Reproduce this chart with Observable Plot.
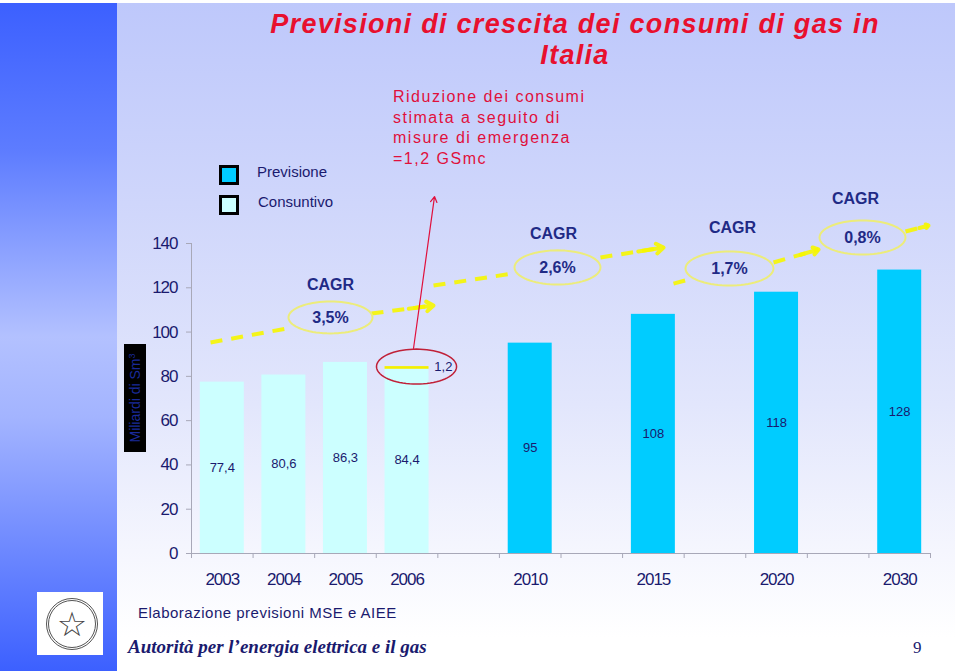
<!DOCTYPE html>
<html><head><meta charset="utf-8">
<script src="https://cdn.jsdelivr.net/npm/d3@7"></script>
<script src="https://cdn.jsdelivr.net/npm/@observablehq/plot@0.6"></script>
<style>
html,body{margin:0;padding:0;background:#fff;}
#slide{position:relative;width:960px;height:671px;overflow:hidden;font-family:"Liberation Sans",Arial,sans-serif;}
#bg{position:absolute;left:0;top:3px;width:955px;height:668px;
 background:linear-gradient(to bottom,#bec8fb 0%,#cfd6fb 30%,#e2e6fc 60%,#f5f6fe 82%,#ffffff 95%);}
#strip{position:absolute;left:0;top:3px;width:117px;height:668px;
 background:linear-gradient(to bottom,#3c60ff 0%,#5d7cff 22%,#b3c1ff 50%,#a3b4ff 62%,#3c60ff 100%);}
#chart{position:absolute;left:0;top:0;}
#chart svg{overflow:visible;}
#chart svg [aria-label="y-axis tick label"] text,
#chart svg [aria-label="x-axis tick label"] text{letter-spacing:-1px;}
.title{position:absolute;left:190px;width:770px;top:9px;text-align:center;color:#e8102e;
 font:italic bold 27px/31px "Liberation Sans",Arial,sans-serif;letter-spacing:1.3px;}
.note{position:absolute;left:393px;top:87px;color:#e0103c;font-size:16px;line-height:20.5px;letter-spacing:1.5px;}
.lg{position:absolute;width:14px;height:14px;border:3px solid #000;}
.lgt{position:absolute;color:#1a1a6e;font-size:15px;}
.ylab{position:absolute;left:124px;top:344px;width:22px;height:108px;background:#000;}
.ylab span{position:absolute;left:11px;top:54px;transform:translate(-50%,-50%) rotate(-90deg);white-space:nowrap;color:#1a2a9a;font-size:14px;}
.src{position:absolute;left:138px;top:604px;color:#1a1a6e;font-size:15px;letter-spacing:0.5px;}
.aut{position:absolute;left:128px;top:636px;color:#1a1a6e;font:italic bold 19px "Liberation Serif","Times New Roman",serif;}
.pg{position:absolute;left:913px;top:638px;color:#1a1a6e;font:17px "Liberation Serif",serif;}
.logo{position:absolute;left:37px;top:592px;width:66px;height:63px;background:#fff;}
.logo span{position:absolute;left:9px;top:6px;width:46px;height:46px;border:3px double #555;border-radius:50%;text-align:center;font:34px/46px "DejaVu Sans",sans-serif;color:#444;}
</style></head><body>
<div id="slide">
 <div id="bg"></div><div id="strip"></div>
 <div id="chart"></div>
 <div class="title">Previsioni di crescita dei consumi di gas in<br>Italia</div>
 <div class="note">Riduzione dei consumi<br>stimata a seguito di<br>misure di emergenza<br>=1,2 GSmc</div>
 <div class="lg" style="left:219px;top:165px;background:#00ccff"></div>
 <div class="lgt" style="left:257px;top:163px">Previsione</div>
 <div class="lg" style="left:219px;top:195px;background:#ccffff"></div>
 <div class="lgt" style="left:258px;top:193px">Consuntivo</div>
 <div class="ylab"><span>Miliardi di Sm<sup style="font-size:9px">3</sup></span></div>
 <div class="logo"><span>☆</span></div>
 <div class="src">Elaborazione previsioni MSE e AIEE</div>
 <div class="aut">Autorità per l’energia elettrica e il gas</div>
 <div class="pg">9</div>
</div>
<script>
// ---- data ----
const years = ["2003","2004","2005","2006","2010","2015","2020","2030"];
const slots = [0, 1, 2, 3, 5, 7, 9, 11];
const values = [77.4, 80.6, 86.3, 84.4, 95, 108, 118, 128];
const valueLabels = ["77,4","80,6","86,3","84,4","95","108","118","128"];
const kinds = ["Consuntivo","Consuntivo","Consuntivo","Consuntivo","Previsione","Previsione","Previsione","Previsione"];
const reductionYear = "2006";
const reduction = 1.2;
const reductionLabel = "1,2";
const yTicks = [0, 20, 40, 60, 80, 100, 120, 140];

// CAGR annotations (in chart units: slot index, Mld Sm3)
const cagrValues = ["3,5%","2,6%","1,7%","0,8%"];
const cagrX = [2.257, 5.943, 8.736, 10.896];
const cagrY = [106.6, 129.2, 128.7, 142.7];
const cagrTitleX = [2.257, 5.878, 8.785, 10.782];
const cagrTitleY = [121.5, 144.5, 147.2, 160.3];
const cagrRx = [0.682, 0.698, 0.714, 0.698];
const cagrRy = [7.2, 7.7, 7.7, 7.7];
// dashed trend pieces
const trendX1 = [0.309, 2.923, 3.930, 6.641, 7.827, 9.451, 11.594];
const trendY1 = [95.3, 108.4, 121.0, 133.7, 121.9, 131.4, 145.4];
const trendX2 = [1.543, 3.930, 5.213, 7.665, 8.070, 10.182, 11.968];
const trendY2 = [101.6, 112.0, 126.4, 138.2, 123.7, 137.3, 148.1];
const trendHead = [false, true, false, true, false, true, true];
// red callout
const calloutX = [3.605, 3.946];
const calloutY = [92.6, 161.2];
const calloutEllipse = {x: 3.654, y: 84.4, rx: 0.65, ry: 7.9};

// ---- build tables ----
const colors = {Consuntivo: "#ccffff", Previsione: "#00ccff"};
const bars = years.map((yr, i) => ({
  year: yr, slot: slots[i], value: values[i], label: valueLabels[i], kind: kinds[i],
  top: yr === reductionYear ? values[i] - reduction : values[i]
}));
const redBar = bars.filter(d => d.year === reductionYear);
const trend = trendX1.map((x, i) => ({x1: x, y1: trendY1[i], x2: trendX2[i], y2: trendY2[i], head: trendHead[i]}));
const heads = trend.filter(d => d.head).map(d => ({
  x1: d.x1 + (d.x2 - d.x1) * 0.6, y1: d.y1 + (d.y2 - d.y1) * 0.6, x2: d.x2, y2: d.y2
}));
function ellipsePts(id, cx, cy, rx, ry) {
  return d3.range(0, 73).map(k => {
    const a = k / 72 * 2 * Math.PI;
    return {id, x: cx + rx * Math.cos(a), y: cy + ry * Math.sin(a)};
  });
}
const cagrEllipses = cagrValues.flatMap((v, i) => ellipsePts(v, cagrX[i], cagrY[i], cagrRx[i], cagrRy[i]));
const redEllipse = ellipsePts("red", calloutEllipse.x, calloutEllipse.y, calloutEllipse.rx, calloutEllipse.ry);

const navy = "#1a1a6e";
const cagrColor = "#1f2a86";
const slotLabels = new Map(bars.map(d => [d.slot + 0.5, d.year]));

const chart = Plot.plot({
  width: 960, height: 671,
  marginTop: 243, marginBottom: 118, marginLeft: 191, marginRight: 30,
  style: {background: "transparent", fontFamily: "'Liberation Sans', Arial, sans-serif", fontSize: "17px", color: navy},
  x: {domain: [0, 12], axis: null},
  y: {domain: [0, 140], axis: null},
  marks: [
    Plot.rectY(bars, {x1: "slot", x2: d => d.slot + 1, y: "top", insetLeft: 8.8, insetRight: 8.8, fill: d => colors[d.kind]}),
    Plot.rectY(redBar, {x1: "slot", x2: d => d.slot + 1, y1: "top", y2: "value", insetLeft: 8.8, insetRight: 8.8, fill: "#f4f000"}),
    Plot.text(bars, {x: d => d.slot + 0.5, y: d => d.value / 2, text: "label", fontSize: 13, fill: navy}),
    Plot.ruleX([0], {y1: 0, y2: 140, stroke: "#a8a8b8"}),
    Plot.ruleY([0], {x1: 0, x2: 12, stroke: "#a8a8b8"}),
    Plot.axisY({ticks: yTicks, tickSize: 5, tickPadding: 9, stroke: "#a8a8b8", fill: navy, fontSize: 17}),
    Plot.axisX({ticks: d3.range(0, 13), tickSize: 5, tickFormat: () => "", stroke: "#a8a8b8"}),
    Plot.axisX({ticks: [...slotLabels.keys()], tickSize: 0, tickPadding: 19, tickFormat: d => slotLabels.get(d), fill: navy, fontSize: 17}),
    // trend arrows
    Plot.link(trend, {x1: "x1", y1: "y1", x2: "x2", y2: "y2", stroke: "#f6f600", strokeWidth: 4, strokeDasharray: "12 9", strokeOpacity: 0.9}),
    Plot.arrow(heads, {x1: "x1", y1: "y1", x2: "x2", y2: "y2", stroke: "#f6f600", strokeWidth: 4, headLength: 9, headAngle: 70, strokeOpacity: 0.9}),
    Plot.line(cagrEllipses, {x: "x", y: "y", z: "id", stroke: "#ecec7a", strokeWidth: 2, curve: "linear-closed"}),
    Plot.text(cagrValues, {x: (d, i) => cagrX[i], y: (d, i) => cagrY[i], text: d => d, fontSize: 16, fontWeight: "bold", fill: cagrColor}),
    Plot.text(cagrValues, {x: (d, i) => cagrTitleX[i], y: (d, i) => cagrTitleY[i], text: () => "CAGR", fontSize: 16, fontWeight: "bold", fill: cagrColor}),
    // red callout
    Plot.line(redEllipse, {x: "x", y: "y", stroke: "#c02038", strokeWidth: 1.5, curve: "linear-closed"}),
    Plot.arrow([0], {x1: calloutX[0], y1: calloutY[0], x2: calloutX[1], y2: calloutY[1], stroke: "#e0103c", strokeWidth: 1.2, headLength: 8}),
    Plot.text(redBar, {x: d => d.slot + 1.09, y: "value", text: () => reductionLabel, fontSize: 13, fill: navy})
  ]
});
document.getElementById("chart").appendChild(chart);
</script>
</body></html>
